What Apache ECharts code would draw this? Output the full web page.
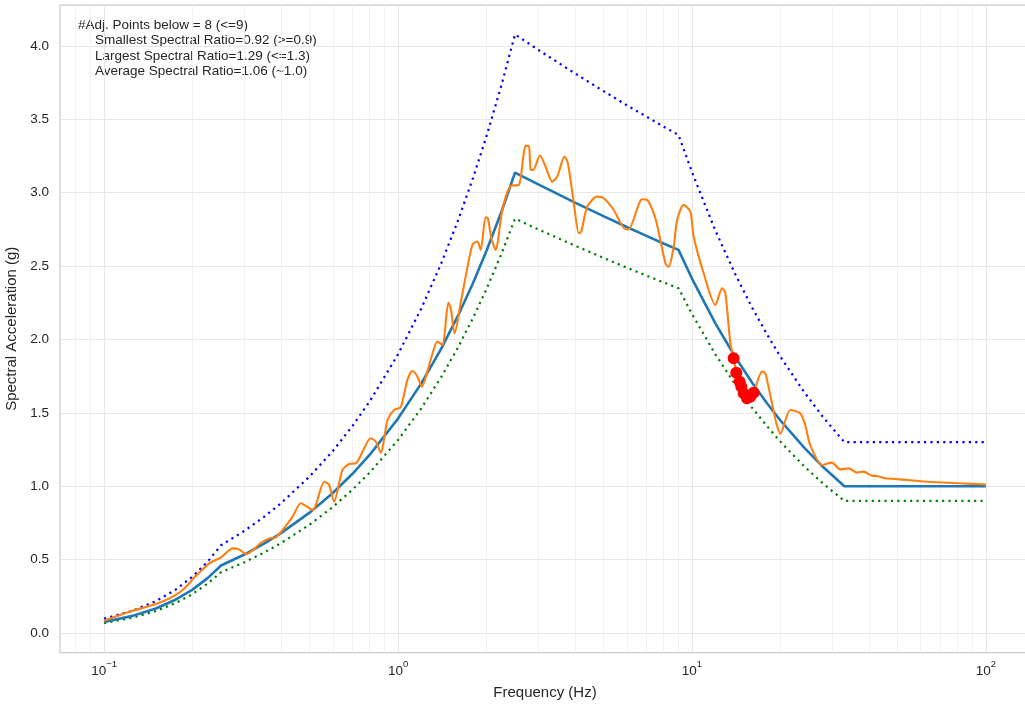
<!DOCTYPE html>
<html><head><meta charset="utf-8">
<script src="https://cdn.jsdelivr.net/npm/echarts@6/dist/echarts.min.js"></script>
<style>html,body{margin:0;padding:0;background:#fff}#c{width:1025px;height:708px}</style>
</head><body><div id="c"></div>
<script>
// ---------- data ----------
const targetFreq = [0.1,0.125,0.15,0.175,0.2,0.225,0.25,0.3,0.35,0.4,0.5,0.6,0.7,0.8,1.0,1.2,1.4,1.6,1.8,2.0,2.25,2.5,3,4,5,6,7,8,9,10,12,14,16,18,20,24,28,33,50,100];
const targetVal = [0.075,0.117,0.167,0.227,0.296,0.374,0.46,0.535,0.609,0.681,0.820,0.954,1.085,1.213,1.461,1.701,1.934,2.162,2.385,2.604,2.872,3.137,3.056,2.932,2.840,2.766,2.706,2.654,2.61,2.415,2.111,1.884,1.707,1.565,1.448,1.266,1.129,1.0,1.0,1.0];
const upperVal = [0.098,0.152,0.217,0.295,0.385,0.486,0.598,0.696,0.792,0.885,1.066,1.240,1.411,1.577,1.899,2.211,2.514,2.811,3.101,3.385,3.734,4.078,3.973,3.812,3.692,3.596,3.518,3.450,3.393,3.140,2.744,2.449,2.219,2.035,1.882,1.646,1.468,1.3,1.3,1.3];
const lowerVal = [0.068,0.105,0.150,0.204,0.266,0.337,0.414,0.482,0.548,0.613,0.738,0.859,0.977,1.092,1.315,1.531,1.741,1.946,2.147,2.344,2.585,2.823,2.750,2.639,2.556,2.489,2.435,2.389,2.349,2.174,1.900,1.696,1.536,1.409,1.303,1.139,1.016,0.9,0.9,0.9];

const matchFreq = [0.100,0.122,0.150,0.167,0.185,0.205,0.228,0.250,0.274,0.288,0.304,0.316,0.342,0.365,0.384,0.405,0.438,0.467,0.512,0.561,0.583,0.606,0.647,0.682,0.718,0.808,0.840,0.873,0.921,0.969,1.021,1.076,1.119,1.164,1.204,1.291,1.361,1.415,1.484,1.511,1.558,1.633,1.789,1.862,1.910,1.986,2.022,2.077,2.148,2.263,2.415,2.577,2.668,2.716,2.787,2.824,2.885,3.038,3.177,3.346,3.480,3.685,3.782,3.963,4.121,4.200,4.402,4.759,5.012,5.420,5.938,6.094,6.767,7.037,7.509,8.124,8.334,8.666,8.901,9.372,9.877,10.13,10.96,12.01,12.66,12.99,13.51,13.86,14.15,14.53,14.72,14.99,15.39,15.79,16.20,17.31,17.76,18.72,19.36,19.97,21.60,23.35,24.28,25.25,27.67,29.92,31.93,34.08,36.39,38.32,40.93,42.56,45.42,51.07,62.92,81.66,100];
const matchVal = [0.084,0.145,0.198,0.236,0.293,0.388,0.475,0.516,0.577,0.570,0.538,0.554,0.615,0.645,0.652,0.702,0.793,0.884,0.838,1.031,1.009,0.895,1.111,1.152,1.156,1.327,1.304,1.229,1.451,1.520,1.538,1.724,1.785,1.747,1.678,1.860,1.985,1.963,2.251,2.213,2.042,2.247,2.644,2.667,2.610,2.833,2.826,2.690,2.610,2.882,3.046,3.053,3.246,3.319,3.319,3.160,3.155,3.253,3.178,3.075,3.110,3.246,3.201,2.928,2.724,2.735,2.905,2.973,2.962,2.882,2.751,2.751,2.955,2.951,2.826,2.519,2.496,2.632,2.814,2.917,2.871,2.701,2.451,2.235,2.349,2.315,1.974,1.872,1.774,1.712,1.678,1.633,1.599,1.610,1.637,1.781,1.770,1.565,1.431,1.356,1.520,1.497,1.417,1.281,1.145,1.161,1.115,1.122,1.093,1.100,1.072,1.070,1.054,1.047,1.031,1.020,1.012];

const belowFreq = [13.86,14.15,14.53,14.72,14.99,15.39,15.79,16.20];
const belowVal = [1.872,1.774,1.712,1.678,1.633,1.599,1.610,1.637];

const xTickExponents = [-1,0,1,2];
const minorTickFreq = [0.08,0.09,0.2,0.3,0.4,0.5,0.6,0.7,0.8,0.9,2,3,4,5,6,7,8,9,20,30,40,50,60,70,80,90];
const yTicks = [0,0.5,1.0,1.5,2.0,2.5,3.0,3.5,4.0];
const notes = ['#Adj. Points below = 8 (<=9)','Smallest Spectral Ratio=0.92 (>=0.9)','Largest Spectral Ratio=1.29 (<=1.3)','Average Spectral Ratio=1.06 (~1.0)'];

// ---------- chart ----------
const FONT = '"Liberation Sans", Arial, sans-serif';
const TXT = '#262626';
const zip = (fs, vs) => fs.map((f, i) => [Math.log10(f), vs[i]]);
const majorLog = xTickExponents.slice();
const minorLog = minorTickFreq.map(f => Math.log10(f));

const chart = echarts.init(document.getElementById('c'), null, {renderer: 'canvas'});
const dotted = [2.2, 4.2];
chart.setOption({
  animation: false,
  backgroundColor: '#ffffff',
  grid: {left: 60, top: 5, width: 970, height: 647.5, show: true, borderColor: '#cccccc', borderWidth: 1.25, backgroundColor: 'transparent', outerBoundsMode: 'none', containLabel: false},
  xAxis: [{
    type: 'value', min: -1.15, max: 2.15,
    name: 'Frequency (Hz)', nameLocation: 'middle', nameGap: 33,
    nameTextStyle: {fontFamily: FONT, fontSize: 15, color: TXT},
    axisLine: {show: false},
    axisTick: {show: false, customValues: majorLog},
    axisLabel: {
      customValues: majorLog, margin: 7, color: TXT, fontFamily: FONT,
      formatter: v => '{b|10}{s|' + (Math.round(v) < 0 ? '\u2212' + Math.abs(Math.round(v)) : Math.round(v)) + '}',
      rich: {b: {fontFamily: FONT, fontSize: 13.5, color: TXT}, s: {fontFamily: FONT, fontSize: 9.5, color: TXT, verticalAlign: 'top', padding: [0, 0, 14, 0]}}
    },
    splitLine: {show: true, lineStyle: {color: '#e6e6e6', width: 1.1}}
  }, {
    type: 'value', min: -1.15, max: 2.15, gridIndex: 0, position: 'bottom',
    axisLine: {show: false}, axisLabel: {show: false},
    axisTick: {show: false, customValues: minorLog},
    splitLine: {show: true, lineStyle: {color: '#efefef', width: 0.9}}
  }],
  yAxis: {
    type: 'value', min: -0.1325, max: 4.2785,
    name: 'Spectral Acceleration (g)', nameLocation: 'middle', nameGap: 30,
    nameTextStyle: {fontFamily: FONT, fontSize: 15, color: TXT},
    axisLine: {show: false},
    axisTick: {show: false, customValues: yTicks},
    axisLabel: {customValues: yTicks, margin: 11, color: TXT, fontFamily: FONT, fontSize: 13.5, formatter: v => v.toFixed(1)},
    splitLine: {show: true, lineStyle: {color: '#e6e6e6', width: 1.1}}
  },
  graphic: [
    {type: 'text', x: 78, y: 25, style: {text: notes[0], font: '13.5px ' + FONT, fill: TXT, verticalAlign: 'middle'}},
    {type: 'text', x: 95, y: 40.5, style: {text: notes[1], font: '13.5px ' + FONT, fill: TXT, verticalAlign: 'middle'}},
    {type: 'text', x: 95, y: 56, style: {text: notes[2], font: '13.5px ' + FONT, fill: TXT, verticalAlign: 'middle'}},
    {type: 'text', x: 95, y: 71.5, style: {text: notes[3], font: '13.5px ' + FONT, fill: TXT, verticalAlign: 'middle'}}
  ],
  series: [
    {type: 'line', name: 'target', data: zip(targetFreq, targetVal), symbol: 'none', lineStyle: {color: '#1f77b4', width: 2.6}, z: 3},
    {type: 'line', name: 'upper', data: zip(targetFreq, upperVal), symbol: 'none', lineStyle: {color: '#0000ff', width: 2.2, type: dotted}, z: 2},
    {type: 'line', name: 'lower', data: zip(targetFreq, lowerVal), symbol: 'none', lineStyle: {color: '#008000', width: 2.2, type: dotted}, z: 2},
    {type: 'line', name: 'match', data: zip(matchFreq, matchVal), symbol: 'none', smooth: 0.25, lineStyle: {color: '#ff7f0e', width: 2.1}, z: 4},
    {type: 'scatter', name: 'below', data: zip(belowFreq, belowVal), symbol: 'circle', symbolSize: 12, itemStyle: {color: '#ff0000', opacity: 1}, z: 5}
  ]
});
</script></body></html>
